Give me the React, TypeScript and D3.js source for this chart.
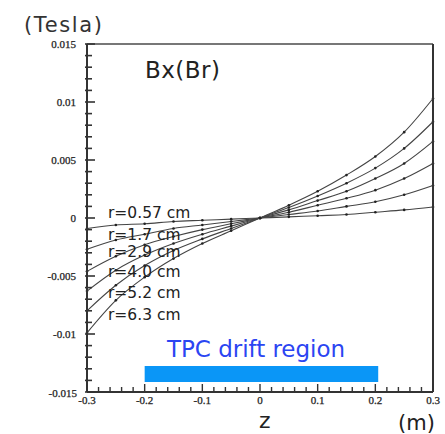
import React from 'react';
import * as d3 from 'd3';

// z positions (m) and Bx (Tesla) for each radius
const zValues = [-0.3, -0.25, -0.2, -0.15, -0.1, -0.05, 0, 0.05, 0.1, 0.15, 0.2, 0.25, 0.3];
const bxR057 = [-0.0009, -0.0006, -0.0005, -0.0003, -0.0002, -0.0001, 0, 0.0001, 0.0002, 0.0003, 0.0005, 0.0007, 0.00095];
const bxR17 = [-0.0027, -0.0019, -0.0014, -0.0009, -0.0006, -0.0003, 0, 0.0003, 0.0006, 0.001, 0.0014, 0.002, 0.0028];
const bxR29 = [-0.0046, -0.0033, -0.0023, -0.0016, -0.001, -0.0005, 0, 0.0005, 0.0011, 0.0017, 0.0024, 0.0034, 0.0047];
const bxR40 = [-0.0063, -0.0045, -0.0032, -0.0022, -0.0014, -0.0007, 0, 0.0007, 0.0015, 0.0023, 0.0034, 0.0047, 0.0066];
const bxR52 = [-0.008, -0.0058, -0.0041, -0.0028, -0.0018, -0.0009, 0, 0.0009, 0.0019, 0.003, 0.0043, 0.006, 0.0083];
const bxR63 = [-0.0099, -0.0071, -0.0051, -0.0035, -0.0022, -0.0011, 0, 0.0011, 0.0023, 0.0037, 0.0053, 0.0074, 0.0103];

const seriesLabels = ['r=0.57 cm', 'r=1.7 cm', 'r=2.9 cm', 'r=4.0 cm', 'r=5.2 cm', 'r=6.3 cm'];
const series = [bxR057, bxR17, bxR29, bxR40, bxR52, bxR63];

const xTickLabels = ['-0.3', '-0.2', '-0.1', '0', '0.1', '0.2', '0.3'];
const yTickLabels = ['-0.015', '-0.01', '-0.005', '0', '0.005', '0.01', '0.015'];

// TPC drift region extent along z (m)
const driftRegion = [-0.2, 0.205];

const W = 445;
const H = 434;
const serif = '"Liberation Serif", "DejaVu Serif", serif';
const sans = '"DejaVu Sans", "Noto Sans", sans-serif';
const axisColor = '#333';

export default function App() {
  const x = d3.scaleLinear().domain([-0.3, 0.3]).range([87, 433]);
  const y = d3.scaleLinear().domain([-0.015, 0.015]).range([392, 44]);

  const line = d3
    .line<number>()
    .x((_, i) => x(zValues[i]))
    .y(d => y(d))
    .curve(d3.curveMonotoneX);

  const xMinor = d3.range(-0.3, 0.3001, 0.02);
  const yMinor = d3.range(-0.015, 0.01501, 0.001);

  return (
    <div style={{ position: 'absolute', left: 0, top: 0 }}>
      <svg width={W} height={H} style={{ display: 'block', background: '#fff' }}>
        {/* drift region bar */}
        <rect
          x={x(driftRegion[0])}
          y={366}
          width={x(driftRegion[1]) - x(driftRegion[0])}
          height={16}
          fill="#0a96f7"
        />
        <text x={167} y={357} fontFamily={sans} fontSize={23} fill="#2b45f2" textLength={178}>
          TPC drift region
        </text>

        {/* curves */}
        {series.map((s, k) => (
          <g key={k}>
            <path d={line(s) || ''} fill="none" stroke="#444" strokeWidth={1.1} />
            {s.map((v, i) => (
              <circle key={i} cx={x(zValues[i])} cy={y(v)} r={1.3} fill="#222" />
            ))}
          </g>
        ))}

        {/* frame */}
        <line x1={87} x2={433} y1={44} y2={44} stroke="#777" strokeWidth={2} />
        <line x1={433} x2={433} y1={44} y2={392} stroke={axisColor} strokeWidth={2} />
        <line x1={87} x2={87} y1={44} y2={392} stroke={axisColor} strokeWidth={2} />
        <line x1={87} x2={433} y1={392} y2={392} stroke={axisColor} strokeWidth={2} />

        {/* y ticks */}
        {yMinor.map((v, i) => {
          const major = i % 5 === 0;
          return (
            <line
              key={'yt' + i}
              x1={85}
              x2={major ? 95 : 92}
              y1={y(v)}
              y2={y(v)}
              stroke={axisColor}
              strokeWidth={1.6}
            />
          );
        })}
        {yTickLabels.map((t, i) => (
          <text
            key={'yl' + i}
            x={i === 0 ? 77 : 76}
            y={y(-0.015 + i * 0.005) + (i === 0 ? 5 : 3.5)}
            textAnchor="end"
            fontFamily={serif}
            fontSize={11}
            fill="#222"
            stroke="#222"
            strokeWidth={0.25}
          >
            {t}
          </text>
        ))}

        {/* x ticks */}
        {xMinor.map((v, i) => {
          const major = i % 5 === 0;
          return (
            <line
              key={'xt' + i}
              x1={x(v)}
              x2={x(v)}
              y1={392}
              y2={major ? 384 : 387}
              stroke={axisColor}
              strokeWidth={1.4}
            />
          );
        })}
        {xTickLabels.map((t, i) => (
          <text
            key={'xl' + i}
            x={x(-0.3 + i * 0.1)}
            y={404}
            textAnchor="middle"
            fontFamily={serif}
            fontSize={11}
            fill="#222"
            stroke="#222"
            strokeWidth={0.25}
          >
            {t}
          </text>
        ))}

        {/* series labels */}
        {seriesLabels.map((t, i) => (
          <text
            key={'sl' + i}
            x={108}
            y={[218, 240, 257, 277, 298, 320][i]}
            fontFamily={sans}
            fontSize={15.5}
            fill="#222"
          >
            {t}
          </text>
        ))}

        {/* titles */}
        <text x={24} y={32} fontFamily={sans} fontSize={21} fill="#333" textLength={78}>
          (Tesla)
        </text>
        <text x={145} y={78} fontFamily={sans} fontSize={23} fill="#222" textLength={75}>
          Bx(Br)
        </text>
        <text x={259} y={428} fontFamily={sans} fontSize={22} fill="#222">
          z
        </text>
        <text x={398} y={430} fontFamily={sans} fontSize={21} fill="#222" textLength={37}>
          (m)
        </text>
      </svg>
    </div>
  );
}
